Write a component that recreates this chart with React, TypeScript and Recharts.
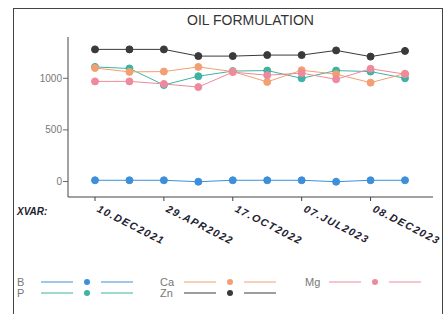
import React from "react";
import { LineChart, Line, XAxis, YAxis } from "recharts";

const sampleIndex = [0, 1, 2, 3, 4, 5, 6, 7, 8, 9];
const tickIndex = [0, 2, 4, 6, 8];
const tickLabels = ["10.DEC2021", "29.APR2022", "17.OCT2022", "07.JUL2023", "08.DEC2023"];
const yTicks = [0, 500, 1000];

const B = [12, 12, 12, -2, 12, 12, 12, -2, 12, 12];
const P = [1110, 1095, 935, 1020, 1070, 1075, 1000, 1075, 1065, 1000];
const Ca = [1100, 1062, 1065, 1110, 1065, 965, 1078, 1040, 958, 1045];
const Zn = [1280, 1280, 1280, 1215, 1215, 1225, 1225, 1270, 1210, 1265];
const Mg = [970, 970, 945, 915, 1060, 1030, 1050, 990, 1092, 1040];

const seriesList = [
  { key: "B", values: B, color: "#3d8fd9" },
  { key: "P", values: P, color: "#3fb3a3" },
  { key: "Ca", values: Ca, color: "#f2a072" },
  { key: "Zn", values: Zn, color: "#3a3a3a" },
  { key: "Mg", values: Mg, color: "#ee8a9c" },
];

const data = sampleIndex.map((i) => {
  const row: Record<string, number> = { idx: i };
  seriesList.forEach((s) => (row[s.key] = s.values[i]));
  return row;
});

const DateTick = (props: any) => {
  const { x, y, payload } = props;
  const label = tickLabels[tickIndex.indexOf(payload.value)];
  return (
    <g transform={`translate(${x + 5},${y + 1})`}>
      <text
        x={0}
        y={0}
        dy={8}
        transform="rotate(27)"
        textAnchor="start"
        fontSize={10.5}
        fontWeight="bold"
        fontStyle="italic"
        letterSpacing={1.4}
        fill="#1e2230"
      >
        {label}
      </text>
    </g>
  );
};

const legendCols = [["B", "P"], ["Ca", "Zn"], ["Mg"]];
const legendColX = [17, 160, 305];

const App: React.FC = () => {
  return (
    <div
      style={{
        position: "absolute",
        left: 0,
        top: 0,
        width: 448,
        height: 314,
        background: "#fff",
        overflow: "hidden",
        fontFamily: '"Liberation Sans", Arial, sans-serif',
      }}
    >
      <div
        style={{
          position: "absolute",
          left: 13,
          top: 8,
          width: 428,
          height: 330,
          border: "1px solid #444",
        }}
      />
      <div
        style={{
          position: "absolute",
          left: 0,
          width: 501,
          top: 12,
          textAlign: "center",
          fontSize: 14,
          color: "#333",
        }}
      >
        OIL FORMULATION
      </div>
      <div style={{ position: "absolute", left: 0, top: 0 }}>
        <LineChart width={448} height={250} data={data} margin={{ top: 37, right: 15, left: 18, bottom: 13 }}>
          <XAxis
            dataKey="idx"
            type="number"
            domain={[0, 9]}
            ticks={tickIndex}
            padding={{ left: 27, right: 28 }}
            height={40}
            tickSize={4}
            tickMargin={2}
            tick={<DateTick />}
            axisLine={{ stroke: "#444" }}
            tickLine={{ stroke: "#444" }}
          />
          <XAxis
            xAxisId="top"
            orientation="top"
            dataKey="idx"
            type="number"
            domain={[0, 9]}
            height={0}
            tick={false}
            tickLine={false}
            axisLine={{ stroke: "#444" }}
          />
          <YAxis
            type="number"
            domain={[-150, 1400]}
            ticks={yTicks}
            width={50}
            tickSize={5}
            tickMargin={1}
            tick={{ fill: "#777", fontSize: 10 }}
            axisLine={{ stroke: "#444" }}
            tickLine={{ stroke: "#666" }}
          />
          <YAxis
            yAxisId="right"
            orientation="right"
            type="number"
            domain={[-150, 1400]}
            width={0}
            tick={false}
            tickLine={false}
            axisLine={{ stroke: "#444" }}
          />
          {seriesList.map((s) => (
            <Line
              key={s.key}
              dataKey={s.key}
              stroke={s.color}
              strokeWidth={1}
              dot={{ r: 3.5, fill: s.color, stroke: s.color, strokeWidth: 1 }}
              isAnimationActive={false}
            />
          ))}
        </LineChart>
      </div>
      <div
        style={{
          position: "absolute",
          left: 17,
          top: 206,
          fontSize: 10,
          fontWeight: "bold",
          fontStyle: "italic",
          color: "#1e2230",
        }}
      >
        XVAR:
      </div>
      <svg style={{ position: "absolute", left: 0, top: 270 }} width={448} height={35}>
        {legendCols.map((col, ci) =>
          col.map((name, ri) => {
            const s = seriesList.find((x) => x.key === name)!;
            const x0 = legendColX[ci];
            const cy = 12 + ri * 11;
            return (
              <g key={name}>
                <text x={x0} y={cy + 4} fontSize={11} fill="#777">
                  {name}
                </text>
                <line x1={x0 + 24} x2={x0 + 56} y1={cy} y2={cy} stroke={s.color} strokeWidth={1} />
                <circle cx={x0 + 70} cy={cy} r={3} fill={s.color} />
                <line x1={x0 + 84} x2={x0 + 116} y1={cy} y2={cy} stroke={s.color} strokeWidth={1} />
              </g>
            );
          })
        )}
      </svg>
    </div>
  );
};

export default App;
